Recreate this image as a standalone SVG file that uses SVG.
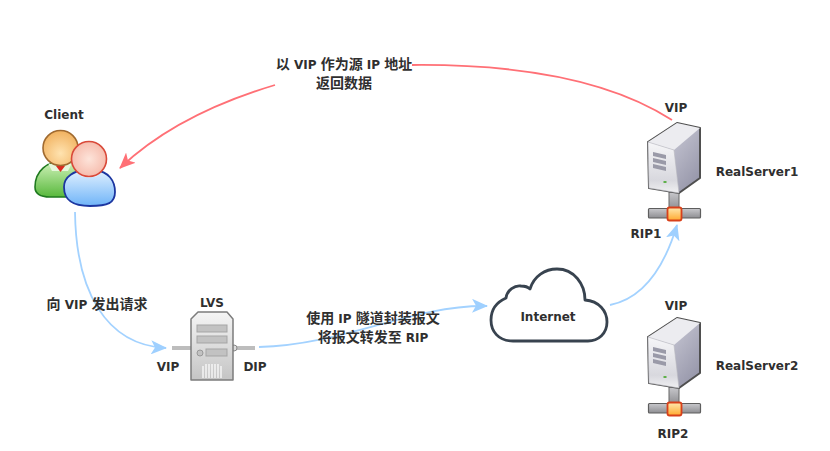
<svg xmlns="http://www.w3.org/2000/svg" width="830" height="451" viewBox="0 0 830 451">
<style>
text{font-family:"DejaVu Sans","Noto Sans CJK SC",sans-serif;font-size:12px;font-weight:700;fill:#2f2f2f;text-anchor:middle}
.z{font-size:14px;font-family:"Noto Sans CJK SC",sans-serif;font-weight:700}
.cn{stroke:#a3d2ff;stroke-width:1.800;fill:none}
.cr{stroke:#ff7076;stroke-width:1.800;fill:none}
</style>
<defs>
<marker id="ab" markerWidth="18" markerHeight="14" refX="15" refY="7" orient="auto" markerUnits="userSpaceOnUse"><path d="M0 0L16 7L0 14L4 7Z" fill="#9fd0ff"/></marker>
<marker id="ar" markerWidth="18" markerHeight="14" refX="15" refY="7" orient="auto" markerUnits="userSpaceOnUse"><path d="M0 0L16 7L0 14L4 7Z" fill="#ff7076"/></marker>
<linearGradient id="front" x1="0" y1="0" x2="0" y2="1"><stop offset="0" stop-color="#f6f6f8"/><stop offset=".75" stop-color="#d8d8de"/><stop offset="1" stop-color="#f0f0f2"/></linearGradient>
<linearGradient id="side" x1="0" y1="0" x2="1" y2="1"><stop offset="0" stop-color="#dcdce6"/><stop offset="1" stop-color="#8f8fa3"/></linearGradient>
<linearGradient id="bar" x1="0" y1="0" x2="0" y2="1"><stop offset="0" stop-color="#c8c8cc"/><stop offset="1" stop-color="#8e8e92"/></linearGradient>
<linearGradient id="org" x1="0" y1="0" x2="0" y2="1"><stop offset="0" stop-color="#ffe9b0"/><stop offset="1" stop-color="#ffa92e"/></linearGradient>
<linearGradient id="lvs" x1="0" y1="0" x2="0" y2="1"><stop offset="0" stop-color="#f5f5f5"/><stop offset="1" stop-color="#c4c4c4"/></linearGradient>
<radialGradient id="hO" cx=".5" cy=".65" r=".6"><stop offset="0" stop-color="#ffe3b0"/><stop offset="1" stop-color="#f2b565"/></radialGradient>
<radialGradient id="hR" cx=".5" cy=".5" r=".6"><stop offset="0" stop-color="#fde4da"/><stop offset="1" stop-color="#f5b5a5"/></radialGradient>
<linearGradient id="bG" x1="0" y1="0" x2="0" y2="1"><stop offset="0" stop-color="#d6f5c0"/><stop offset="1" stop-color="#58b83c"/></linearGradient>
<linearGradient id="bB" x1="0" y1="0" x2="0" y2="1"><stop offset="0" stop-color="#e2f1ff"/><stop offset="1" stop-color="#6fb4f8"/></linearGradient>
<g id="server">
<rect x="669" y="192" width="10" height="17" fill="url(#bar)" stroke="#666" stroke-width="1"/>
<rect x="648.500" y="208.500" width="52" height="9.500" rx="1" fill="url(#bar)" stroke="#5e5e5e" stroke-width="1.200"/>
<path d="M648 142L677 123L700 128V178L679 193L649 188Z" fill="url(#side)" stroke="#4f4f4f" stroke-width="2" stroke-linejoin="round"/>
<path d="M648 142L677 123L700 128L674 150Z" fill="#ececf0"/>
<path d="M648 142L674 150L679 193L649 188Z" fill="url(#front)" stroke="#b9b9c0" stroke-width=".6"/>
<path d="M653 152L666 155V159L653 156ZM653 158L666 161V165L653 162ZM653 164L666 167V171L653 168Z" fill="#9a9aa8"/>
<rect x="664" y="190" width="3" height="2" fill="#5fb04a" transform="translate(-.5 -9)"/>
<rect x="667.500" y="207.500" width="14" height="13" rx="2" fill="url(#org)" stroke="#d8401a" stroke-width="1.800"/>
</g>
</defs>
<rect width="830" height="451" fill="#fff"/>
<g id="connectors">
<path class="cr" d="M412 65C520 64 610 80 672 120"/>
<path class="cr" d="M275 85C215 103 160 130 120 168" marker-end="url(#ar)"/>
<path class="cn" d="M75 212C76 290 105 345 166 348" marker-end="url(#ab)"/>
<path class="cn" d="M259 347C345 345 410 305 487 306" marker-end="url(#ab)"/>
<path class="cn" d="M610 305C645 298 665 265 677 225" marker-end="url(#ab)"/>
</g>
<g id="client">
<text x="64" y="119">Client</text>
<path d="M35 187C35 170 48 162 62 160H72C88 162 95 175 95 190C90 198 70 197 50 197C40 197 35 194 35 187Z" fill="url(#bG)" stroke="#1f7a1f" stroke-width="1.600"/>
<path d="M48 163L60 167L72 163L68 171H52Z" fill="#e6f7dc"/>
<path d="M56 166L60.500 172L65 166Z" fill="#dd2a20"/>
<circle cx="60.500" cy="148" r="17.500" fill="url(#hO)" stroke="#a06a30" stroke-width="1.600"/>
<path d="M64 187C64 176 75 171 84 170H96C108 172 115 180 115 192C115 203 108 206 90 206C75 206 64 202 64 187Z" fill="url(#bB)" stroke="#1c36a0" stroke-width="1.800"/>
<path d="M78 172L89 178L100 172L96 177H82Z" fill="#f0f8ff"/>
<circle cx="89" cy="159" r="17.500" fill="url(#hR)" stroke="#d94a3a" stroke-width="1.600"/>
</g>
<g id="lvs-node">
<text x="212" y="307">LVS</text>
<rect x="172" y="346" width="20" height="4" fill="#bdbdbd"/>
<rect x="232" y="346" width="23" height="4" fill="#bdbdbd"/>
<circle cx="234" cy="348" r="3" fill="#ddd" stroke="#888"/>
<path d="M191 319L198 312H227L233 319V380H191Z" fill="url(#lvs)" stroke="#7c7c7c" stroke-width="1.500" stroke-linejoin="round"/>
<rect x="197" y="325" width="30" height="7" fill="#c2c2c2" stroke="#a5a5a5"/>
<rect x="197" y="336" width="30" height="7" fill="#c2c2c2" stroke="#a5a5a5"/>
<rect x="206" y="349" width="21" height="7" fill="#c2c2c2" stroke="#a5a5a5"/>
<circle cx="200" cy="353" r="3" fill="#c2c2c2" stroke="#989898"/>
<path d="M203 366v12M206 364v14M209 364v14M212 364v14M215 364v14M218 364v14M221 366v12" stroke="#fff" stroke-width="1.200"/>
<text x="168" y="371">VIP</text>
<text x="255" y="371">DIP</text>
</g>
<g id="internet">
<path d="M513 341C498 341 491 331 491 320C491 309 497 302 506 298C507 290 515 285 521 286C525 286 528 287 530 289C534 276 545 269 557 269C574 269 585 284 585 300C599 301 607 311 607 322C607 334 598 341 588 341Z" fill="#fff" stroke="#38434f" stroke-width="2.800" stroke-linejoin="round"/>
<text x="548" y="321">Internet</text>
</g>
<g id="realserver1">
<text x="676" y="112">VIP</text>
<use href="#server"/>
<text x="757" y="176">RealServer1</text>
<text x="646" y="238">RIP1</text>
</g>
<g id="realserver2">
<text x="676" y="310">VIP</text>
<use href="#server" y="195"/>
<text x="757" y="370">RealServer2</text>
<text x="673" y="438">RIP2</text>
</g>
<g id="labels">
<text x="344" y="69"><tspan class="z">以</tspan> VIP <tspan class="z">作为源</tspan> IP <tspan class="z">地址</tspan></text>
<text x="344" y="88"><tspan class="z">返回数据</tspan></text>
<text x="97" y="309"><tspan class="z">向</tspan> VIP <tspan class="z">发出请求</tspan></text>
<text x="373" y="323"><tspan class="z">使用</tspan> IP <tspan class="z">隧道封装报文</tspan></text>
<text x="373" y="342"><tspan class="z">将报文转发至</tspan> RIP</text>
</g>
</svg>
